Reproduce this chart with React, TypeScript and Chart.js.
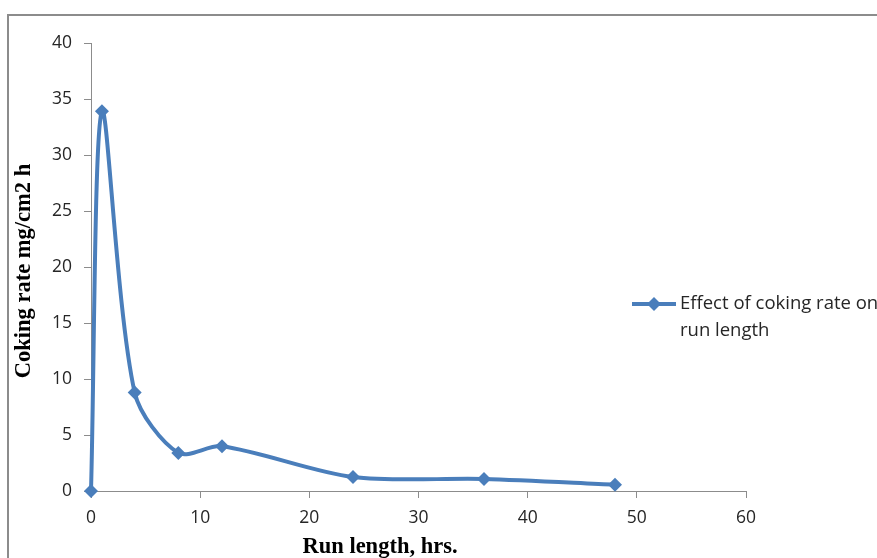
import React, { useEffect, useRef } from "react";
import { Chart, registerables } from "chart.js";

Chart.register(...registerables);

// Run length (hrs) and coking rate (mg/cm2 h)
const runLength = [0, 1, 4, 8, 12, 24, 36, 48];
const cokingRate = [0, 33.9, 8.8, 3.4, 4.0, 1.25, 1.07, 0.56];

const xTicks = [0, 10, 20, 30, 40, 50, 60];
const yTicks = [0, 5, 10, 15, 20, 25, 30, 35, 40];

const seriesLabel = ["Effect of coking rate on", "run length"];
const xTitle = "Run length, hrs.";
const yTitle = "Coking rate mg/cm2 h";

const BLUE = "#4a7ebb";
const AXIS = "#8c8c8c";
const TICK_FONT = "'Open Sans', 'Noto Sans', sans-serif";
const TITLE_FONT = "'Liberation Serif', 'DejaVu Serif', serif";

const framePlugin = {
  id: "frame",
  beforeDraw(chart: any) {
    const { ctx, width, height } = chart;
    ctx.save();
    ctx.fillStyle = "#ffffff";
    ctx.fillRect(0, 0, width, height);
    ctx.strokeStyle = AXIS;
    ctx.lineWidth = 2;
    ctx.beginPath();
    ctx.moveTo(8, height + 5);
    ctx.lineTo(8, 15);
    ctx.lineTo(width + 5, 15);
    ctx.stroke();
    ctx.restore();
  },
};

const labelsPlugin = {
  id: "labels",
  afterDraw(chart: any) {
    const { ctx, chartArea } = chart;
    ctx.save();
    // axis titles
    ctx.fillStyle = "#000000";
    ctx.font = `bold 22.5px ${TITLE_FONT}`;
    ctx.textAlign = "center";
    ctx.textBaseline = "middle";
    ctx.fillText(xTitle, chartArea.left + 289, chartArea.bottom + 56);
    ctx.save();
    ctx.translate(24, (chartArea.top + chartArea.bottom) / 2 + 4);
    ctx.rotate(-Math.PI / 2);
    ctx.fillText(yTitle, 0, 0);
    ctx.restore();

    // legend
    const lx = chartArea.right - 114;
    const ly = chartArea.top + 261;
    ctx.strokeStyle = BLUE;
    ctx.lineWidth = 4;
    ctx.beginPath();
    ctx.moveTo(lx, ly);
    ctx.lineTo(lx + 44, ly);
    ctx.stroke();
    ctx.fillStyle = BLUE;
    ctx.beginPath();
    const cx = lx + 22;
    const r = 7;
    ctx.moveTo(cx, ly - r);
    ctx.lineTo(cx + r, ly);
    ctx.lineTo(cx, ly + r);
    ctx.lineTo(cx - r, ly);
    ctx.closePath();
    ctx.fill();
    ctx.fillStyle = "#262626";
    ctx.font = `18.5px ${TICK_FONT}`;
    ctx.textAlign = "left";
    ctx.textBaseline = "middle";
    seriesLabel.forEach((line, i) => {
      ctx.fillText(line, lx + 48, ly + i * 27);
    });
    ctx.restore();
  },
};

export default function App() {
  const canvasRef = useRef<HTMLCanvasElement | null>(null);

  useEffect(() => {
    if (!canvasRef.current) return;
    const chart = new Chart(canvasRef.current, {
      type: "scatter",
      data: {
        datasets: [
          {
            label: seriesLabel.join(" "),
            data: runLength.map((x, i) => ({ x, y: cokingRate[i] })),
            showLine: true,
            borderColor: BLUE,
            backgroundColor: BLUE,
            borderWidth: 4,
            tension: 0.3,
            pointStyle: "rectRot",
            pointRadius: 7,
            pointHoverRadius: 7,
            pointBorderWidth: 0,
            clip: false,
          } as any,
        ],
      },
      options: {
        responsive: false,
        animation: false,
        layout: { padding: { left: 0, top: 43, right: 131, bottom: 0 } },
        plugins: {
          legend: { display: false },
          tooltip: { enabled: false },
        },
        scales: {
          x: {
            type: "linear",
            min: 0,
            max: 60,
            afterBuildTicks: (scale: any) => {
              scale.ticks = xTicks.map((v) => ({ value: v }));
            },
            afterFit: (scale: any) => {
              scale.height = 67;
            },
            grid: {
              drawOnChartArea: false,
              drawTicks: true,
              tickLength: 7,
              color: AXIS,
            },
            border: { display: true, color: AXIS, width: 1 },
            ticks: {
              color: "#262626",
              padding: 10,
              font: { family: TICK_FONT, size: 17.5 },
            },
          },
          y: {
            type: "linear",
            min: 0,
            max: 40,
            afterBuildTicks: (scale: any) => {
              scale.ticks = yTicks.map((v) => ({ value: v }));
            },
            afterFit: (scale: any) => {
              scale.width = 91;
            },
            grid: {
              drawOnChartArea: false,
              drawTicks: true,
              tickLength: 7,
              color: AXIS,
            },
            border: { display: true, color: AXIS, width: 1 },
            ticks: {
              color: "#262626",
              padding: 12,
              font: { family: TICK_FONT, size: 17.5 },
            },
          },
        },
      },
      plugins: [framePlugin, labelsPlugin],
    });
    return () => chart.destroy();
  }, []);

  return (
    <div style={{ position: "absolute", left: 0, top: 0, width: 877, height: 558 }}>
      <canvas ref={canvasRef} width={877} height={558} style={{ display: "block" }} />
    </div>
  );
}
